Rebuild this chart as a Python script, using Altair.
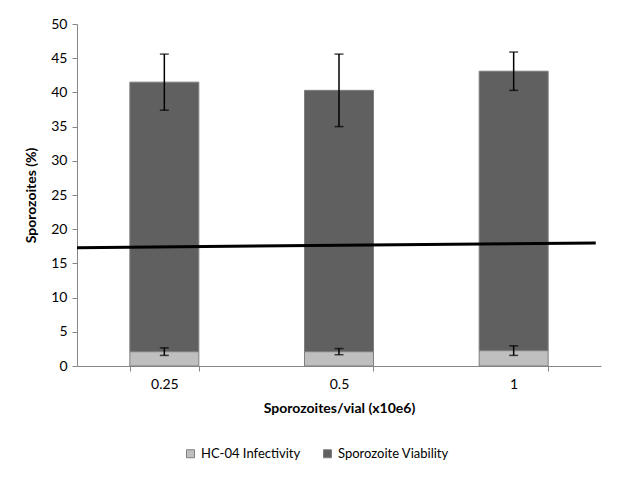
import altair as alt
import pandas as pd

categories = ["0.25", "0.5", "1"]
infectivity = [2.1, 2.1, 2.25]
infectivity_err = [0.55, 0.45, 0.7]
viability = [39.4, 38.2, 40.85]   # stacked segment above infectivity
viability_err = [4.1, 5.3, 2.8]
trend_x = [0.0, 2.97]
trend_y = [17.3, 18.0]
y_ticks = [0, 5, 10, 15, 20, 25, 30, 35, 40, 45, 50]

series_names = ["HC-04 Infectivity", "Sporozoite Viability"]
colors = ["#BFBFBF", "#606060"]

rows = []
for i, c in enumerate(categories):
    rows.append({"cat": c, "series": series_names[0], "lo": 0.0, "hi": infectivity[i],
                 "order": 0, "err": infectivity_err[i]})
    top = infectivity[i] + viability[i]
    rows.append({"cat": c, "series": series_names[1], "lo": infectivity[i], "hi": top,
                 "order": 1, "err": viability_err[i]})
df = pd.DataFrame(rows)
df["elo"] = df["hi"] - df["err"]
df["ehi"] = df["hi"] + df["err"]

trend = pd.DataFrame({"tx": trend_x, "ty": trend_y})

FONT = "Lato"
xscale = alt.Scale(paddingInner=0.605, paddingOuter=0.3025)
yscale = alt.Scale(domain=[0, 50], nice=False)
y_axis = alt.Axis(title="Sporozoites (%)", values=y_ticks,
                  grid=False, tickSize=5, labelPadding=5, titlePadding=12,
                  domainColor="#868686", tickColor="#868686")

x_enc = alt.X("cat:N", sort=categories, scale=xscale,
              axis=alt.Axis(title="Sporozoites/vial (x10e6)", labelAngle=0,
                            tickBand="extent", tickSize=5, labelPadding=6,
                            titlePadding=10, domainColor="#868686", tickColor="#868686"))

bars = alt.Chart(df).mark_bar(stroke="#7F7F7F", strokeWidth=1).encode(
    x=x_enc,
    y=alt.Y("lo:Q", scale=yscale, axis=y_axis),
    y2="hi:Q",
    color=alt.Color("series:N", scale=alt.Scale(domain=series_names, range=colors),
                    legend=alt.Legend(title=None, orient="none", direction="horizontal",
                                      legendX=107, legendY=423, symbolType="square",
                                      symbolSize=64, symbolStrokeColor="#7F7F7F",
                                      symbolStrokeWidth=1, labelOffset=4,
                                      columnPadding=20, labelFontSize=13,
                                      labelFont=FONT, labelColor="#000000")),
)

err_rule = alt.Chart(df).mark_rule(color="black", strokeWidth=1.5).encode(
    x=alt.X("cat:N", sort=categories, scale=xscale),
    y=alt.Y("elo:Q", scale=yscale, axis=y_axis),
    y2="ehi:Q",
)
cap_lo = alt.Chart(df).mark_tick(color="black", thickness=1.5, size=9, orient="horizontal").encode(
    x=alt.X("cat:N", sort=categories, scale=xscale),
    y=alt.Y("elo:Q", scale=yscale, axis=y_axis),
)
cap_hi = alt.Chart(df).mark_tick(color="black", thickness=1.5, size=9, orient="horizontal").encode(
    x=alt.X("cat:N", sort=categories, scale=xscale),
    y=alt.Y("ehi:Q", scale=yscale, axis=y_axis),
)

base = alt.layer(bars, err_rule, cap_lo, cap_hi)

trend_line = alt.Chart(trend).mark_line(color="black", strokeWidth=3).encode(
    x=alt.X("tx:Q", scale=alt.Scale(domain=[0, 3], nice=False, zero=False), axis=None),
    y=alt.Y("ty:Q", scale=yscale, axis=y_axis),
)

chart = alt.layer(base, trend_line).resolve_scale(x="independent").properties(
    width=524, height=342,
    autosize=alt.AutoSizeParams(type="none"),
    padding={"left": 69, "top": 16, "right": 16, "bottom": 111},
    background="white",
).configure_view(stroke=None).configure_axis(
    labelFont=FONT, titleFont=FONT, labelFontSize=14, titleFontSize=14,
    labelColor="#000000", titleColor="#000000", titleFontWeight="bold",
)

chart.save("out.html", embed_options={"renderer": "svg", "actions": False})
